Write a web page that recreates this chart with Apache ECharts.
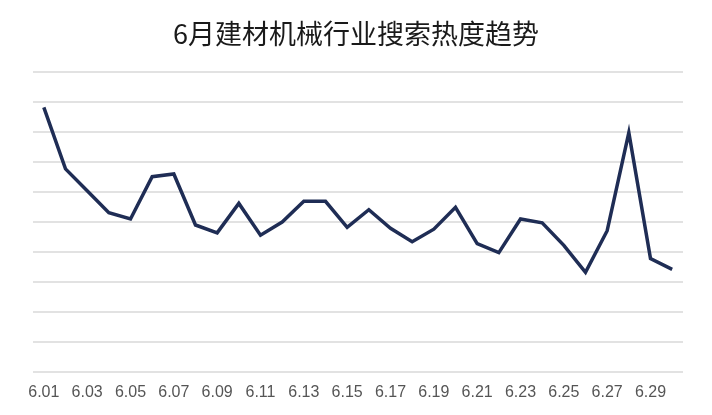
<!DOCTYPE html>
<html><head><meta charset="utf-8">
<script src="https://cdn.jsdelivr.net/npm/echarts@6/dist/echarts.min.js"></script>
<style>html,body{margin:0;padding:0;background:#fff}#c{width:712px;height:415px}</style>
</head><body><div id="c"></div>
<script>
const titleText = '6月建材机械行业搜索热度趋势';
const categories = ['6.01','6.02','6.03','6.04','6.05','6.06','6.07','6.08','6.09','6.10','6.11','6.12','6.13','6.14','6.15','6.16','6.17','6.18','6.19','6.20','6.21','6.22','6.23','6.24','6.25','6.26','6.27','6.28','6.29','6.30'];
const heatValues = [8.82,6.77,6.04,5.31,5.10,6.51,6.60,4.90,4.64,5.62,4.56,5.00,5.69,5.69,4.82,5.41,4.79,4.34,4.76,5.49,4.28,3.98,5.10,4.97,4.22,3.32,4.71,7.98,3.78,3.42];

const chart = echarts.init(document.getElementById('c'));
chart.setOption({
  animation: false,
  title: {
    text: titleText, left: 'center', top: 15,
    textStyle: {fontSize: 27, fontWeight: 'normal', color: '#1a1a1a', fontFamily: 'Noto Sans CJK SC'}
  },
  grid: {left: 33, right: 29, top: 72, bottom: 43},
  xAxis: {
    type: 'category', data: categories, boundaryGap: true,
    axisLine: {show: false}, axisTick: {show: false},
    axisLabel: {interval: 1, fontSize: 16, color: '#555', margin: 13, fontFamily: 'Liberation Sans'}
  },
  yAxis: {
    type: 'value', min: 0, max: 10, interval: 1,
    axisLabel: {show: false}, axisLine: {show: false}, axisTick: {show: false},
    splitLine: {lineStyle: {color: '#d9d9d9', width: 1.5}}
  },
  series: [{
    type: 'line', data: heatValues, symbol: 'none',
    lineStyle: {color: '#1f2d55', width: 3.5, join: 'miter'}
  }]
});
</script></body></html>
